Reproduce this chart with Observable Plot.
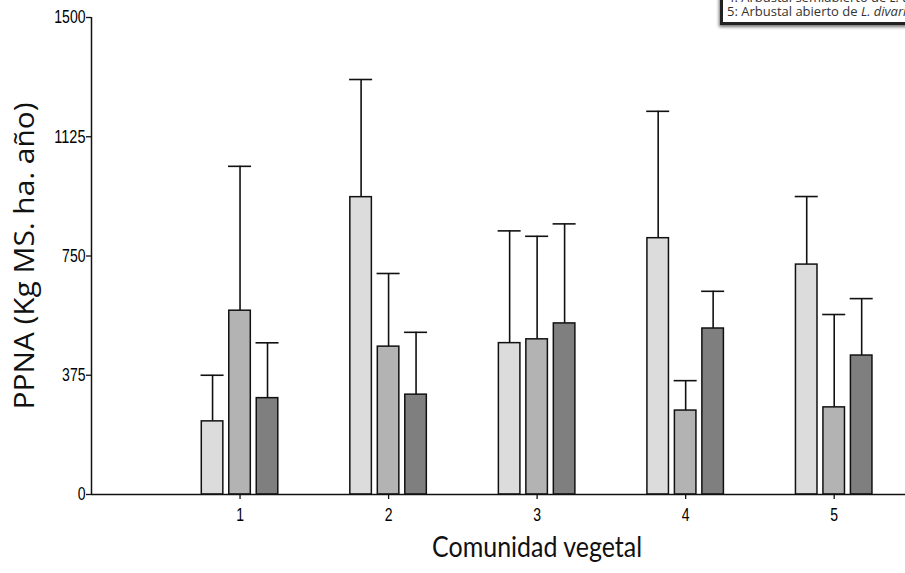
<!DOCTYPE html>
<html>
<head>
<meta charset="utf-8">
<script src="https://cdn.jsdelivr.net/npm/d3@7"></script>
<script src="https://cdn.jsdelivr.net/npm/@observablehq/plot@0.6"></script>
<style>
  html, body { margin: 0; padding: 0; background: #fff; }
  #wrap { position: relative; width: 905px; height: 573px; overflow: hidden; background: #fff; }
  #legend {
    position: absolute; left: 720px; top: -13px; width: 400px;
    border: 3px solid #222; background: #fff;
    box-shadow: -1px 2px 3px rgba(0,0,0,0.55);
    padding: 0 0 4px 4px;
    font: 400 13px "Open Sans", sans-serif; color: #333; line-height: 14px;
    white-space: nowrap;
  }
</style>
</head>
<body>
<div id="wrap">
  <div id="chart"></div>
  <div id="legend">
    <div>4: Arbustal semiabierto de <i>L. divaricata</i></div>
    <div>5: Arbustal abierto de <i>L. divaricata</i></div>
  </div>
</div>
<script>
// Plant communities on the x axis
const categories = [1, 2, 3, 4, 5];
// Mean annual aboveground net primary production (kg DM/ha/yr), three series per community
const seriesA = [230, 935, 476, 806, 723];
const seriesB = [578, 465, 488, 264, 274];
const seriesC = [303, 314, 538, 522, 437];
// Upper error (SD) for each bar
const errA = [145, 370, 353, 399, 214];
const errB = [454, 230, 324, 94, 292];
const errC = [174, 196, 313, 117, 179];
const seriesKeys = ["A", "B", "C"];
const seriesColors = ["#dcdcdc", "#b3b3b3", "#7f7f7f"];
const yTicks = [0, 375, 750, 1125, 1500];
const xTitle = "Comunidad vegetal";
const yTitle = "PPNA (Kg MS. ha. año)";

// Group layout in x-data units
const groupOffset = 0.185;
const barWidth = 0.145;

const rows = [];
[seriesA, seriesB, seriesC].forEach((vals, s) => {
  const errs = [errA, errB, errC][s];
  categories.forEach((c, i) => {
    rows.push({ cat: c, series: seriesKeys[s], pos: c + (s - 1) * groupOffset, mean: vals[i], top: vals[i] + errs[i] });
  });
});

const tickFont = "'Liberation Sans', Arial, sans-serif";

const chart = Plot.plot({
  width: 905,
  height: 573,
  marginLeft: 91,
  marginRight: 0,
  marginTop: 17,
  marginBottom: 79,
  style: { fontFamily: tickFont, fontSize: "18px", color: "#000", background: "#fff", overflow: "visible" },
  x: { domain: [0, 5.48], label: null },
  y: { domain: [0, 1500], label: null },
  color: { domain: seriesKeys, range: seriesColors },
  marks: [
    Plot.axisX({ ticks: categories, tickFormat: d => String(d), tickSize: 5, tickPadding: 9, fontSize: 18, label: null, stroke: "#111", strokeWidth: 1.3 }),
    Plot.axisY({ ticks: yTicks, tickFormat: d => String(d), tickSize: 5, tickPadding: 1, fontSize: 18, label: null, stroke: "#111", strokeWidth: 1.3 }),
    Plot.rectY(rows, { x1: d => d.pos - barWidth / 2, x2: d => d.pos + barWidth / 2, y1: 0, y2: "mean", fill: "series", stroke: "#111", strokeWidth: 1.5 }),
    Plot.ruleX(rows, { x: "pos", y1: "mean", y2: "top", stroke: "#111", strokeWidth: 1.6 }),
    Plot.ruleY(rows, { y: "top", x1: d => d.pos - barWidth / 2 - 0.005, x2: d => d.pos + barWidth / 2 + 0.005, stroke: "#111", strokeWidth: 1.6 }),
    Plot.ruleX([0], { y1: 0, y2: 1500, stroke: "#111", strokeWidth: 1.5 }),
    Plot.ruleY([0], { stroke: "#111", strokeWidth: 1.5 }),
    Plot.text([xTitle], { x: 3, frameAnchor: "bottom", dy: 62, fontFamily: "Lato, sans-serif", fontSize: 28, fill: "#111", lineAnchor: "bottom" }),
    Plot.text([yTitle], { frameAnchor: "left", dx: -66, rotate: -90, textAnchor: "middle", fontFamily: "'Open Sans', sans-serif", fontSize: 27, fill: "#111" })
  ]
});

// Narrow the tick labels and fit the two axis titles to their lengths
const tickLabels = new Set([...categories, ...yTicks].map(String));
d3.select(chart).selectAll("text").each(function () {
  const t = this.textContent;
  if (t === xTitle) this.setAttribute("textLength", 210), this.setAttribute("lengthAdjust", "spacingAndGlyphs");
  else if (t === yTitle) this.setAttribute("textLength", 307), this.setAttribute("lengthAdjust", "spacingAndGlyphs");
  else if (tickLabels.has(t)) {
    this.setAttribute("font-size", 18);
    this.setAttribute("textLength", 7.8 * t.length);
    this.setAttribute("lengthAdjust", "spacingAndGlyphs");
  }
});
document.getElementById("chart").appendChild(chart);
</script>
</body>
</html>
